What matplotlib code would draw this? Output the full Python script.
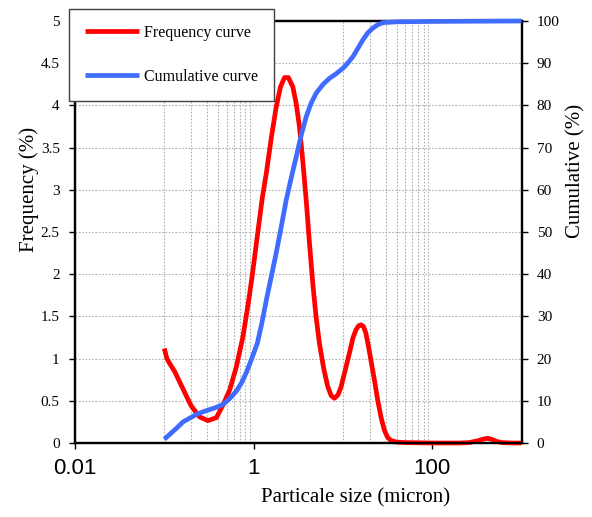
import matplotlib
matplotlib.use("Agg")
import matplotlib.pyplot as plt
from matplotlib.ticker import FixedLocator, NullFormatter, FixedFormatter

# ---- data ----
freq_x = [0.1, 0.107, 0.115, 0.131, 0.162, 0.2, 0.248, 0.308, 0.383, 0.454,
          0.54, 0.64, 0.76, 0.87, 0.97, 1.1, 1.25, 1.39, 1.58, 1.79,
          2.0, 2.22, 2.45, 2.75, 3.0, 3.26, 3.55, 3.88, 4.2, 4.6,
          5.0, 5.46, 6.1, 6.77, 7.4, 8.03, 8.8, 9.55, 10.6, 11.8,
          13, 14, 15, 16, 17, 18.1, 19.3, 20.6, 22.5, 24.5,
          26.8, 29.1, 31.5, 34.5, 40, 50, 100, 200, 259, 320,
          370, 415, 460, 520, 600, 800, 1000]
freq_y = [1.12, 1.0, 0.94, 0.845, 0.64, 0.44, 0.31, 0.265, 0.30, 0.45,
          0.63, 0.90, 1.26, 1.65, 2.0, 2.45, 2.9, 3.2, 3.62, 3.98,
          4.22, 4.33, 4.33, 4.22, 4.02, 3.75, 3.35, 2.88, 2.40, 1.89,
          1.50, 1.18, 0.88, 0.667, 0.56, 0.53, 0.57, 0.667, 0.86, 1.06,
          1.25, 1.34, 1.39, 1.40, 1.38, 1.30, 1.15, 0.98, 0.75, 0.51,
          0.30, 0.154, 0.07, 0.03, 0.01, 0.005, 0.0, 0.0, 0.005, 0.025,
          0.045, 0.056, 0.045, 0.02, 0.005, 0.0, 0.0]

cum_x = [0.1, 0.12, 0.137, 0.162, 0.193, 0.23, 0.272, 0.32, 0.383, 0.44,
         0.495, 0.56, 0.641, 0.73, 0.829, 0.95, 1.1, 1.24, 1.39, 1.58,
         1.79, 2.05, 2.32, 2.65, 3.0, 3.4, 3.88, 4.4, 5.02, 6.0,
         7.06, 8.4, 10, 11.3, 12.9, 14.7, 16.7, 19, 21.6, 24.5,
         28, 39.5, 100, 1000]
cum_y = [0.9, 2.4, 3.5, 5.0, 5.9, 6.8, 7.4, 7.9, 8.45, 9.0,
         9.8, 10.9, 12.3, 14.2, 16.7, 19.9, 23.6, 28.5, 33.9, 39.5,
         45, 51.5, 57.6, 63, 67.8, 72.8, 77.3, 80.5, 82.9, 85.0,
         86.4, 87.5, 88.8, 90.0, 91.5, 93.5, 95.5, 97.2, 98.3, 99.1,
         99.6, 99.8, 99.9, 100]

x_ticks = [0.01, 1, 100]
x_ticklabels = ["0.01", "1", "100"]
x_grid = [0.1, 0.2, 0.3, 0.4, 0.5, 0.6, 0.7, 0.8, 0.9,
          10, 20, 30, 40, 50, 60, 70, 80, 90]
freq_ticks = [0, 0.5, 1, 1.5, 2, 2.5, 3, 3.5, 4, 4.5, 5]
freq_ticklabels = ["0", "0.5", "1", "1.5", "2", "2.5", "3", "3.5", "4", "4.5", "5"]
cum_ticks = [0, 10, 20, 30, 40, 50, 60, 70, 80, 90, 100]

SERIF = "Liberation Serif"
SANS = "Liberation Sans"

fig = plt.figure(figsize=(5.92, 5.17), dpi=100)
ax = fig.add_axes([75 / 592, 74 / 517, 446.5 / 592, 422 / 517])
ax2 = ax.twinx()

ax.set_xscale("log")
ax.set_xlim(0.01, 1000)
ax.set_ylim(0, 5)
ax2.set_ylim(0, 100)

# grid
ax.xaxis.set_major_locator(FixedLocator(x_ticks))
ax.xaxis.set_major_formatter(FixedFormatter(x_ticklabels))
ax.xaxis.set_minor_locator(FixedLocator(x_grid))
ax.xaxis.set_minor_formatter(NullFormatter())
ax.grid(which="minor", axis="x", color="#B0B0B0", linestyle=(0, (1.5, 1.5)), linewidth=0.8)
ax.grid(which="major", axis="y", color="#B0B0B0", linestyle=(0, (1.5, 1.5)), linewidth=0.8)
ax.grid(which="major", axis="x", visible=False)
ax.set_axisbelow(True)

ax.set_yticks(freq_ticks)
ax.set_yticklabels(freq_ticklabels)
ax2.set_yticks(cum_ticks)

ax.tick_params(axis="x", which="major", direction="out", length=4, width=1,
               pad=7, labelsize=16)
ax.tick_params(axis="x", which="minor", length=0)
ax.tick_params(axis="y", direction="out", length=4, width=1, pad=7, labelsize=11)
ax2.tick_params(axis="y", direction="out", length=4, width=1, pad=7, labelsize=11)
for lab in ax.get_xticklabels():
    lab.set_family(SANS)
for lab in ax.get_yticklabels() + ax2.get_yticklabels():
    lab.set_family(SERIF)

for sp in list(ax.spines.values()) + list(ax2.spines.values()):
    sp.set_linewidth(1.6)
    sp.set_color("black")

l1, = ax.plot(freq_x, freq_y, color="#FF0000", linewidth=3.4, label="Frequency curve",
              clip_on=False, zorder=3, solid_capstyle="butt", solid_joinstyle="round")
l2, = ax2.plot(cum_x, cum_y, color="#3F6BFF", linewidth=3.4, label="Cumulative curve",
               clip_on=False, zorder=3, solid_capstyle="butt", solid_joinstyle="round")

ax.set_xlabel("Particale size (micron)", family=SERIF, fontsize=15)
ax.xaxis.set_label_coords(0.628, -0.108)
ax.set_ylabel("Frequency (%)", family=SERIF, fontsize=15,
              ha="center", va="center", rotation=90, rotation_mode="anchor")
ax.yaxis.set_label_coords(-0.103, 0.60)
ax2.set_ylabel("Cumulative (%)", family=SERIF, fontsize=15,
               ha="center", va="center", rotation=90, rotation_mode="anchor")
ax2.yaxis.set_label_coords(1.122, 0.645)

leg = ax2.legend(handles=[l1, l2], loc="upper left",
                 bbox_to_anchor=(69 / 592, 1 - 9 / 517),
                 bbox_transform=fig.transFigure, borderaxespad=0,
                 prop={"family": SERIF, "size": 11.5},
                 fancybox=False, shadow=False, framealpha=1,
                 edgecolor="#404040", borderpad=1.0, labelspacing=1.75,
                 handlelength=3.4, handletextpad=0.3)
leg.get_frame().set_linewidth(1.0)
leg.set_zorder(10)

fig.savefig("out.png", dpi=100)
